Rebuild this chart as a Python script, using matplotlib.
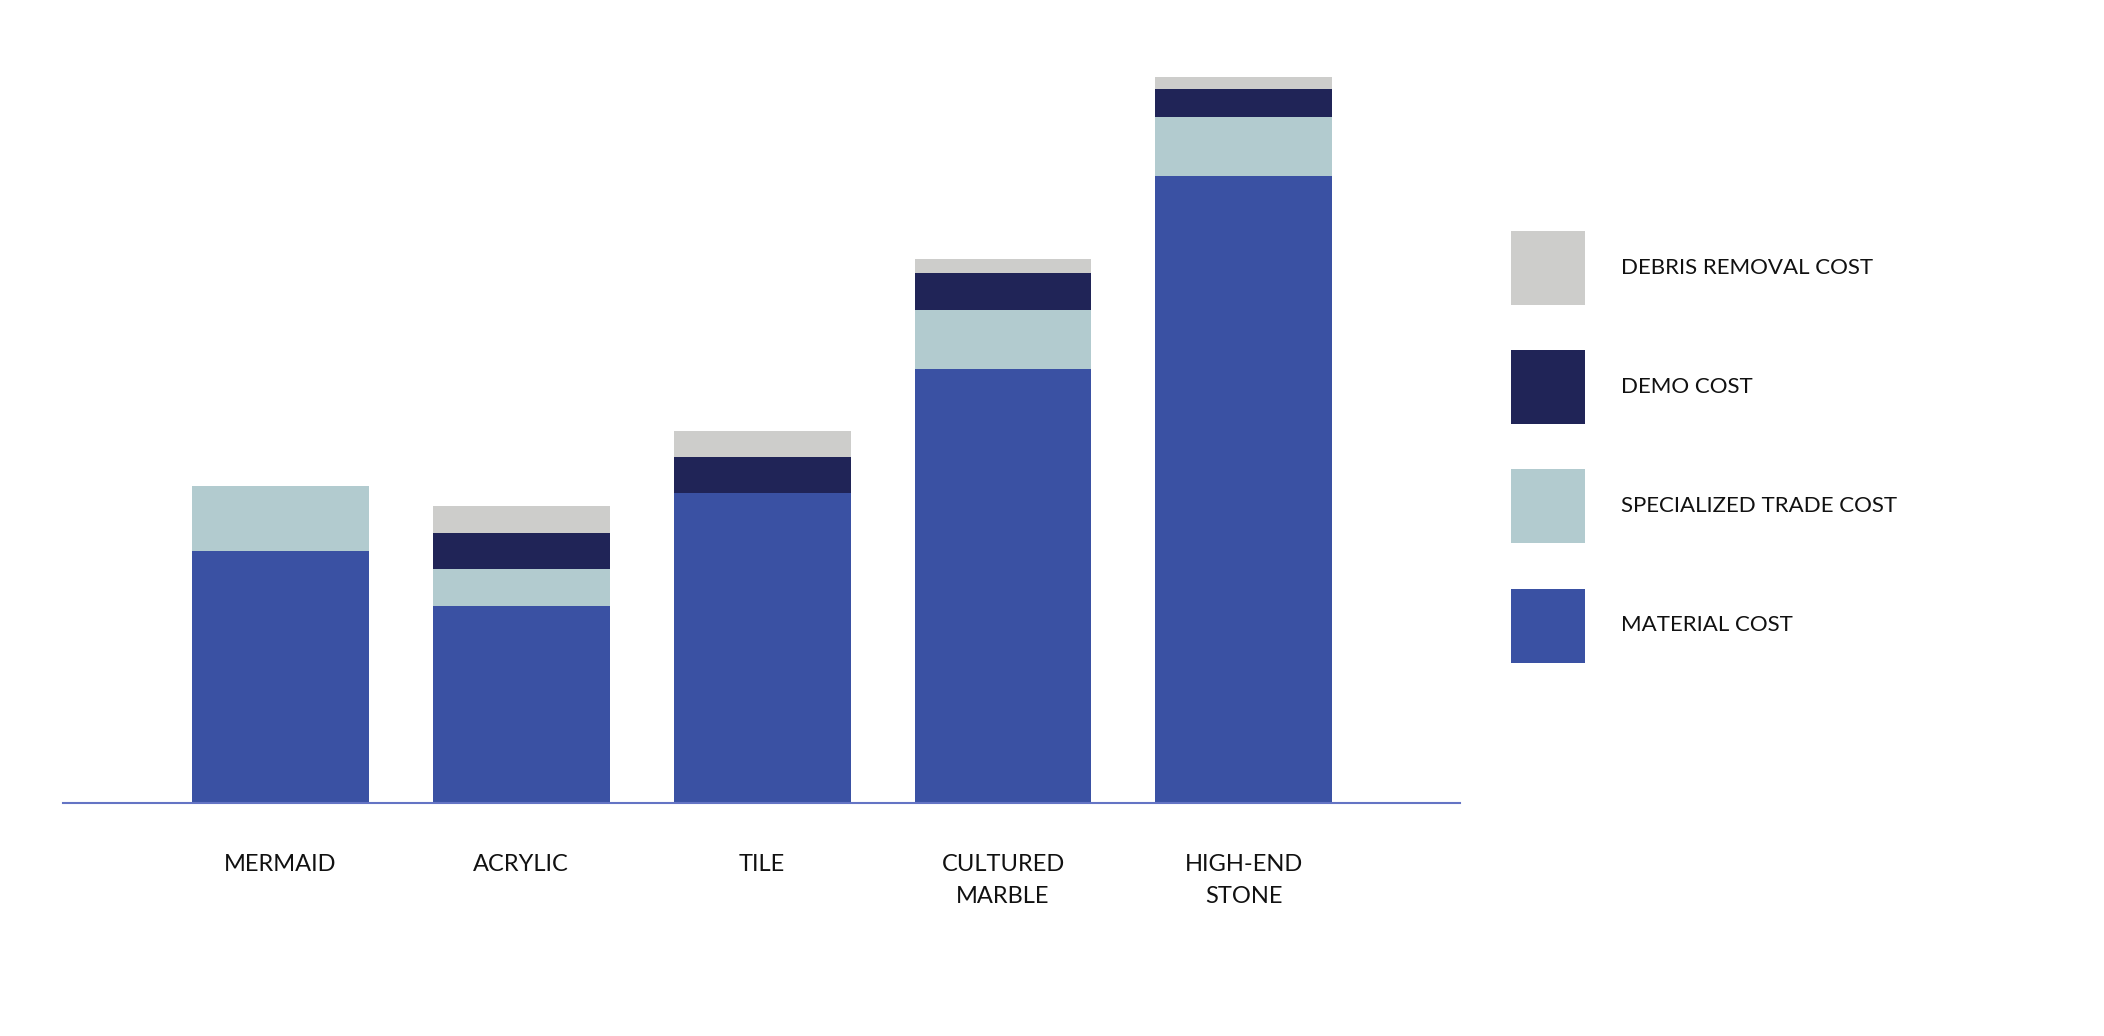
import numpy as np
import matplotlib
matplotlib.use('Agg')
import matplotlib.pyplot as plt
from matplotlib.patches import Patch

# values (relative units)
categories = ['MERMAID', 'ACRYLIC', 'TILE', 'CULTURED\nMARBLE', 'HIGH-END\nSTONE']
material = [188, 147, 231, 323, 467]
specialized = [48, 27, 0, 44, 44]
demo = [0, 27, 27, 28, 21]
debris = [0, 20, 19, 10, 9]

series_names = ['MATERIAL COST', 'SPECIALIZED TRADE COST', 'DEMO COST', 'DEBRIS REMOVAL COST']
colors = ['#3A51A3', '#B2CBCF', '#202457', '#CDCDCB']


def main():
    plt.rcParams['font.family'] = ['Lato', 'DejaVu Sans']
    fig = plt.figure(figsize=(21.04, 10.36), dpi=100)
    ax = fig.add_axes([63 / 2104, 1 - 803 / 1036, 1397 / 2104, (803 - 76.5) / 1036])

    x = np.arange(len(categories))
    bottom = np.zeros(len(categories))
    for name, vals, col in zip(series_names, [material, specialized, demo, debris], colors):
        vals = np.array(vals, dtype=float)
        ax.bar(x, vals, 0.734, bottom=bottom, color=col, linewidth=0, label=name)
        bottom += vals

    ax.set_xlim(-0.902, 4.897)
    ax.set_ylim(0, 541)
    for s in ['top', 'right', 'left']:
        ax.spines[s].set_visible(False)
    ax.spines['bottom'].set_color('#6474C4')
    ax.spines['bottom'].set_linewidth(1.5)
    ax.set_yticks([])
    ax.set_xticks(x)
    ax.set_xticklabels(categories, fontsize=17, linespacing=1.6, va='top', color='#111111')
    ax.tick_params(axis='x', length=0, pad=37)

    handles = [Patch(facecolor=c) for c in colors][::-1]
    labels = series_names[::-1]
    leg = fig.legend(handles, labels, loc='upper left', bbox_to_anchor=(1511 / 2104, 1 - 231 / 1036),
                     frameon=False, fontsize=16, handlelength=3.33, handleheight=4.75,
                     labelspacing=2.03, handletextpad=1.6, borderpad=0, borderaxespad=0)
    for t in leg.get_texts():
        t.set_color('#111111')

    fig.savefig('out.png', dpi=100, facecolor='white')


if __name__ == '__main__':
    main()
